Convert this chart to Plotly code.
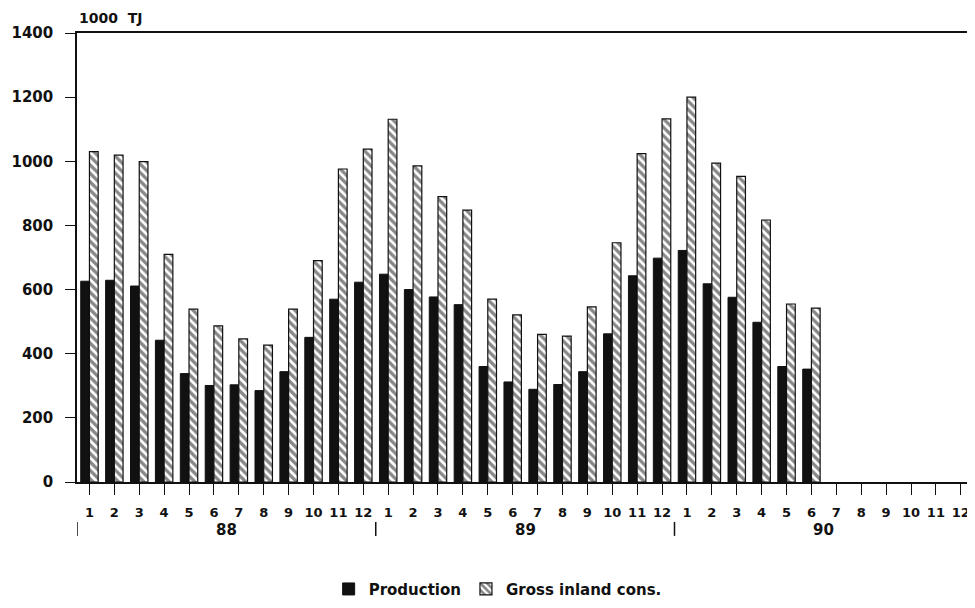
import plotly.graph_objects as go

# monthly data, 1988-1990 (1000 TJ)
years = ["88", "89", "90"]
months = [str(m) for m in range(1, 13)] * 3
production = [626, 629, 611, 442, 338, 301, 303, 285, 344, 451, 570, 623,
              648, 600, 577, 553, 360, 312, 289, 304, 344, 462, 643, 698,
              722, 618, 576, 498, 360, 352, None, None, None, None, None, None]
gross_inland = [1030, 1019, 999, 710, 539, 487, 446, 427, 539, 690, 976, 1038,
                1131, 986, 890, 848, 570, 521, 460, 455, 546, 746, 1024, 1132,
                1200, 994, 953, 817, 555, 542, None, None, None, None, None, None]

pos = list(range(len(months)))
FONT = "DejaVu Sans"
INK = "#111111"


def bold(size):
    return dict(family=FONT, size=size, color=INK, weight="bold")


fig = go.Figure()
fig.add_trace(go.Bar(
    x=pos, y=production, name="Production",
    marker=dict(color=INK, line=dict(color=INK, width=1)),
))
fig.add_trace(go.Bar(
    x=pos, y=gross_inland, name="Gross inland cons.",
    marker=dict(color="white", line=dict(color=INK, width=1.2),
                pattern=dict(shape="\\", fgcolor=INK, bgcolor="white",
                             size=6, solidity=0.55)),
))

# year labels and separators under the month ticks
for i, yr in enumerate(years):
    fig.add_annotation(x=i * 12 + 5.5, xref="x", y=0, yref="paper",
                       text=yr, showarrow=False, yanchor="middle", yshift=-48,
                       font=bold(15))
seps = [-0.5, 11.5, 23.5, 35.45]
for s in seps:
    fig.add_shape(type="line", xref="x", yref="paper", x0=s, x1=s,
                  y0=-0.089, y1=-0.12, line=dict(color=INK, width=1.5))

fig.add_annotation(x=0, xref="paper", y=1, yref="paper", text="1000\u00a0\u00a0TJ",
                   showarrow=False, xanchor="left", yanchor="bottom", yshift=5,
                   font=bold(14))

# page body has an 8px margin, so the figure is 8px smaller than the window
fig.update_layout(
    width=967, height=600,
    margin=dict(l=69, r=3, t=25, b=125),
    paper_bgcolor="white", plot_bgcolor="white",
    barmode="group", bargap=0.3, bargroupgap=0,
    font=dict(family=FONT, color=INK),
    legend=dict(orientation="h", x=0.47, xanchor="center", y=-0.236, yanchor="middle",
                font=bold(15), traceorder="normal"),
    xaxis=dict(range=[-0.5, 35.45], tickvals=pos, ticktext=months, automargin=False,
               ticks="outside", ticklen=11, tickcolor=INK, tickwidth=1.2,
               ticklabelstandoff=7,
               showline=True, linecolor=INK, linewidth=1.5, mirror=True,
               showgrid=False, zeroline=False, tickfont=bold(13)),
    yaxis=dict(range=[0, 1400], dtick=200, ticks="outside", ticklen=10,
               tickcolor=INK, tickwidth=1.2, ticklabelstandoff=9, automargin=False,
               showline=True, linecolor=INK, linewidth=1.5, mirror=True,
               showgrid=False, zeroline=False, tickfont=bold(15)),
)

fig.write_html("out.html")
